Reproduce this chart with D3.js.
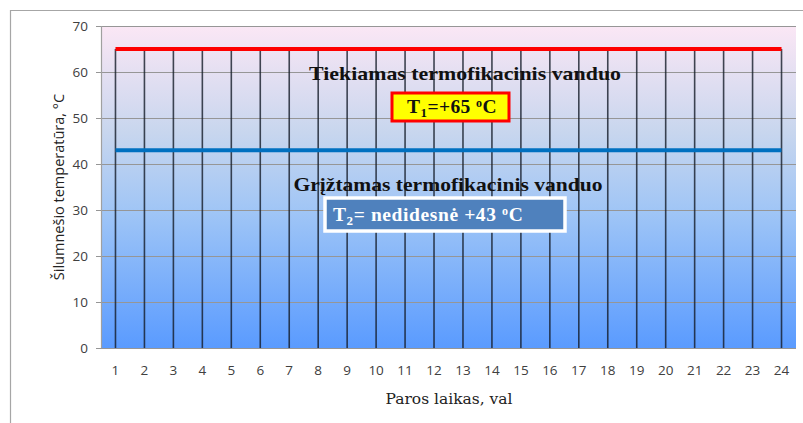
<!DOCTYPE html>
<html>
<head>
<meta charset="utf-8">
<script src="https://cdn.jsdelivr.net/npm/d3@7/dist/d3.min.js"></script>
<style>
  html, body { margin: 0; padding: 0; background: #fff; }
  svg { display: block; }
</style>
</head>
<body>
<svg id="chart" width="803" height="423"></svg>
<script>
// Hours of the day and the two water temperature series
const hours = d3.range(1, 25);
const supplyTemp = [65,65,65,65,65,65,65,65,65,65,65,65,65,65,65,65,65,65,65,65,65,65,65,65];
const returnTemp = [43,43,43,43,43,43,43,43,43,43,43,43,43,43,43,43,43,43,43,43,43,43,43,43];
const yTicks = [0, 10, 20, 30, 40, 50, 60, 70];

const svg = d3.select("#chart");
const W = 803, H = 423;
const m = { left: 101, right: 7, top: 26, bottom: 75 };
const pw = W - m.left - m.right, ph = H - m.top - m.bottom;

// outer frame
svg.append("path")
  .attr("d", `M10.5,${H} V10.5 H${W}`)
  .attr("fill", "none").attr("stroke", "#a6a6a6").attr("stroke-width", 1.2);

const x = d3.scaleBand().domain(hours).range([m.left, m.left + pw]);
const y = d3.scaleLinear().domain([0, 70]).range([m.top + ph, m.top]);

// plot-area gradient
const defs = svg.append("defs");
const grad = defs.append("linearGradient").attr("id", "bg")
  .attr("x1", 0).attr("y1", 0).attr("x2", 0).attr("y2", 1);
grad.append("stop").attr("offset", "0%").attr("stop-color", "#fbe7f5");
grad.append("stop").attr("offset", "33%").attr("stop-color", "#c8d6ee");
grad.append("stop").attr("offset", "58%").attr("stop-color", "#9fc5f6");
grad.append("stop").attr("offset", "100%").attr("stop-color", "#5a9bff");

svg.append("rect")
  .attr("x", m.left).attr("y", m.top).attr("width", pw).attr("height", ph)
  .attr("fill", "url(#bg)");

// horizontal gridlines
svg.append("g").selectAll("line").data(yTicks).join("line")
  .attr("x1", m.left - 5).attr("x2", m.left + pw)
  .attr("y1", d => Math.round(y(d)) + 0.5).attr("y2", d => Math.round(y(d)) + 0.5)
  .attr("stroke", "#969696").attr("stroke-width", 1.2);

// left axis line
svg.append("line")
  .attr("x1", m.left + 0.5).attr("x2", m.left + 0.5)
  .attr("y1", m.top).attr("y2", m.top + ph)
  .attr("stroke", "#a0a0a0").attr("stroke-width", 1.2);

// y tick labels
svg.append("g").selectAll("text").data(yTicks).join("text")
  .attr("x", m.left - 13).attr("y", d => y(d) + 5)
  .attr("text-anchor", "end")
  .attr("font-family", "'Open Sans', 'Liberation Sans', sans-serif")
  .attr("font-size", 13.5).attr("fill", "#404040")
  .text(d => d);

// x tick labels
const xc = d => x(d) + x.bandwidth() / 2;
svg.append("g").selectAll("text").data(hours).join("text")
  .attr("x", d => xc(d)).attr("y", m.top + ph + 27)
  .attr("text-anchor", "middle")
  .attr("font-family", "'Open Sans', 'Liberation Sans', sans-serif")
  .attr("font-size", 13.5).attr("fill", "#404040")
  .text(d => d);

// drop lines from the supply series down to the axis
svg.append("g").selectAll("line").data(hours).join("line")
  .attr("x1", d => xc(d)).attr("x2", d => xc(d))
  .attr("y1", (d, i) => y(supplyTemp[i])).attr("y2", y(0))
  .attr("stroke", "#141c28").attr("stroke-opacity", 0.8).attr("stroke-width", 1.6);

// series lines
const line = d3.line().x((d, i) => xc(hours[i])).y(d => y(d));
svg.append("path").datum(returnTemp).attr("d", line)
  .attr("fill", "none").attr("stroke", "#0070c0").attr("stroke-width", 4);
svg.append("path").datum(supplyTemp).attr("d", line)
  .attr("fill", "none").attr("stroke", "#ff0000").attr("stroke-width", 4);

// annotations
const serif = "'Liberation Serif', 'DejaVu Serif', serif";
svg.append("text")
  .attr("x", 465).attr("y", 80).attr("text-anchor", "middle")
  .attr("font-family", serif).attr("font-weight", "bold").attr("font-size", 19)
  .attr("fill", "#111").attr("textLength", 312).attr("lengthAdjust", "spacingAndGlyphs")
  .text("Tiekiamas termofikacinis vanduo");

svg.append("rect")
  .attr("x", 392).attr("y", 93).attr("width", 117).attr("height", 28)
  .attr("fill", "#ffff00").attr("stroke", "#ff0000").attr("stroke-width", 3);
const t1 = svg.append("text")
  .attr("x", 452).attr("y", 113).attr("text-anchor", "middle")
  .attr("font-family", serif).attr("font-weight", "bold").attr("font-size", 19.5)
  .attr("letter-spacing", 0.4).attr("fill", "#111");
t1.append("tspan").text("T");
t1.append("tspan").attr("font-size", 13).attr("dy", 4).text("1");
t1.append("tspan").attr("dy", -4).text("=+65 ");
t1.append("tspan").attr("font-size", 12).attr("dy", -6).text("o");
t1.append("tspan").attr("dy", 6).text("C");

svg.append("text")
  .attr("x", 448).attr("y", 191).attr("text-anchor", "middle")
  .attr("font-family", serif).attr("font-weight", "bold").attr("font-size", 19)
  .attr("fill", "#111").attr("textLength", 309).attr("lengthAdjust", "spacingAndGlyphs")
  .text("Grįžtamas termofikacinis vanduo");

svg.append("rect")
  .attr("x", 325).attr("y", 198).attr("width", 240).attr("height", 33)
  .attr("fill", "#4f81bd").attr("stroke", "#ffffff").attr("stroke-width", 3.5);
const t2 = svg.append("text")
  .attr("x", 333).attr("y", 221)
  .attr("font-family", serif).attr("font-weight", "bold").attr("font-size", 19.5)
  .attr("letter-spacing", 0.6).attr("fill", "#ffffff");
t2.append("tspan").text("T");
t2.append("tspan").attr("font-size", 13).attr("dy", 4).text("2");
t2.append("tspan").attr("dy", -4).text("= nedidesnė +43 ");
t2.append("tspan").attr("font-size", 12).attr("dy", -6).text("o");
t2.append("tspan").attr("dy", 6).text("C");

// axis titles
svg.append("text")
  .attr("transform", `translate(64,${m.top + ph / 2}) rotate(-90)`)
  .attr("text-anchor", "middle")
  .attr("font-family", "'Open Sans', 'Liberation Sans', sans-serif")
  .attr("font-size", 14.5).attr("fill", "#222")
  .text("Šilumnešio temperatūra, °C");

svg.append("text")
  .attr("x", 449).attr("y", 404).attr("text-anchor", "middle")
  .attr("font-family", "'DejaVu Serif', serif").attr("font-size", 15.5).attr("fill", "#222")
  .text("Paros laikas, val");
</script>
</body>
</html>
